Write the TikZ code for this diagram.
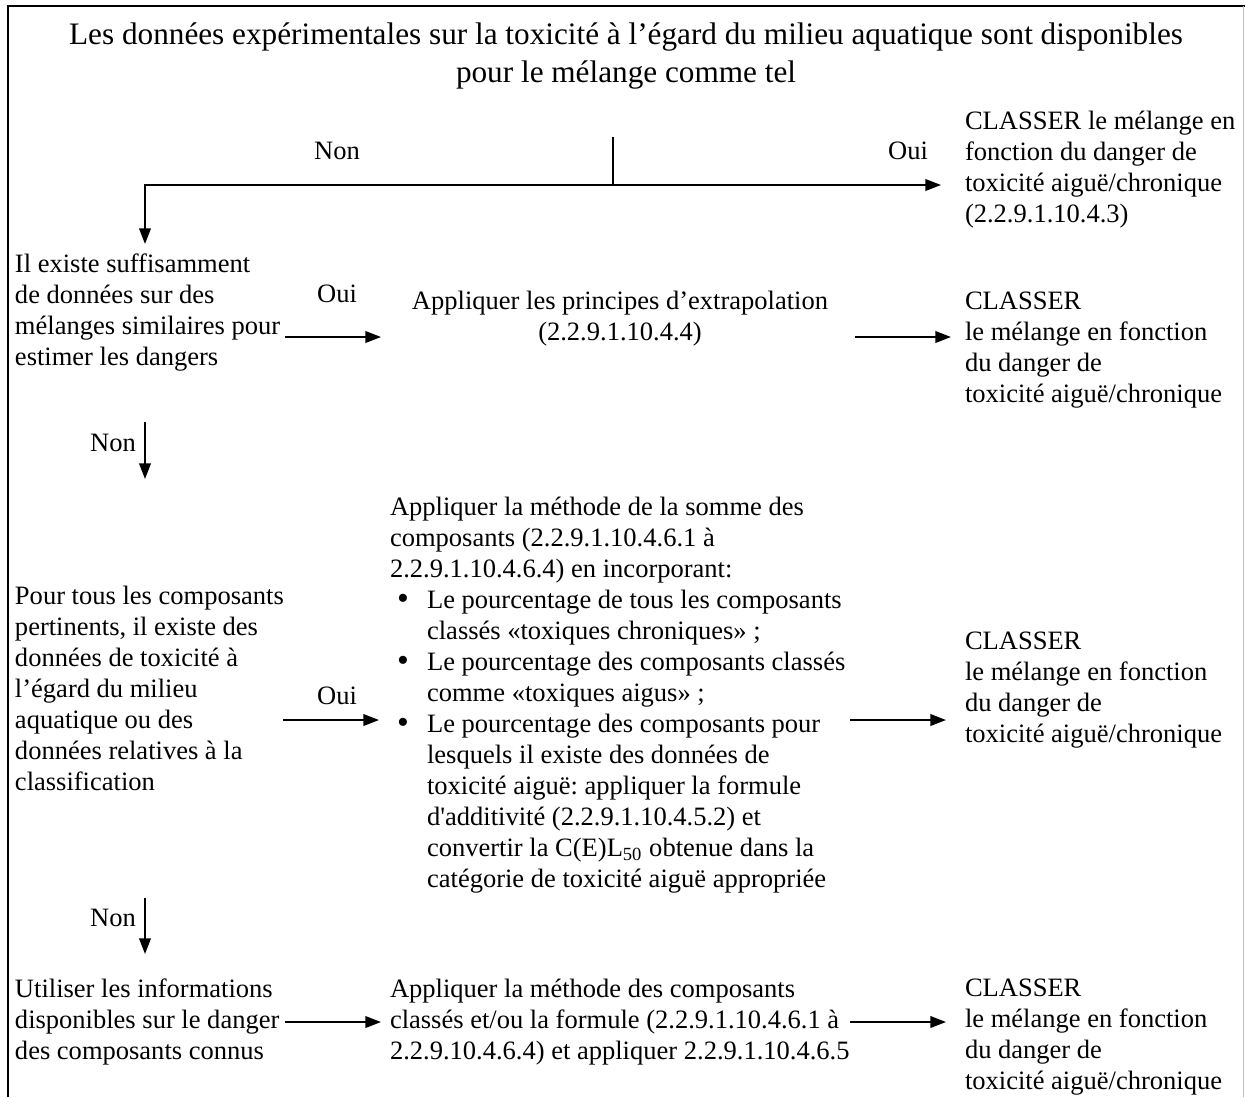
\documentclass[tikz,border=0pt]{standalone}
\usepackage{fontspec}
\setmainfont{Liberation Serif}
\usetikzlibrary{arrows.meta}
\frenchspacing
\begin{document}
\begin{tikzpicture}[x=0.445pt,y=-0.445pt,
  txt/.style={inner sep=0pt,outer sep=0pt,align=left,anchor=north west,font=\fontsize{11.8}{13.8}\selectfont},
  lbl/.style={inner sep=0pt,outer sep=0pt,font=\fontsize{11.8}{13.8}\selectfont},
  conn/.style={line width=0.8pt},
  arr/.style={line width=0.8pt,-{Triangle[length=7pt,width=5.2pt]}}]
\useasboundingbox (0,0) rectangle (1245,1097);
\newcommand\bul{\hspace*{3.2pt}\makebox[13.3pt][l]{\raisebox{-0.3pt}{\fontsize{15}{13.8}\selectfont •}}}
\newcommand\ind{\hspace*{16.5pt}}
% frame
\draw[line width=1.2pt] (8,1097) -- (8,6) -- (1245,6);
\draw[line width=0.4pt,black!25] (1243.5,6) -- (1243.5,1097);
% title
\node[inner sep=0pt,align=center,font=\fontsize{13.9}{16.5}\selectfont] (title) at (626,56)
  {Les données expérimentales sur la toxicité à l'égard du milieu aquatique sont disponibles\\pour le mélange comme tel};
% row 1
\node[lbl] (non1) at (337,151) {Non};
\node[lbl] (oui1) at (908,151) {Oui};
\node[txt] (r1) at (965,111) {CLASSER le mélange en\\fonction du danger de\\toxicité aiguë/chronique\\(2.2.9.1.10.4.3)};
% row 2
\node[txt] (l2) at (15,254) {Il existe suffisamment\\de données sur des\\mélanges similaires pour\\estimer les dangers};
\node[lbl] (oui2) at (337,294) {Oui};
\node[inner sep=0pt,align=center,font=\fontsize{11.8}{13.8}\selectfont] (m2) at (620,319) {Appliquer les principes d'extrapolation\\(2.2.9.1.10.4.4)};
\node[txt] (r2) at (965,292) {CLASSER\\le mélange en fonction\\du danger de\\toxicité aiguë/chronique};
\node[lbl] (non2) at (113,443) {Non};
% row 3
\node[txt] (l3) at (15,586) {Pour tous les composants\\pertinents, il existe des\\données de toxicité à\\l'égard du milieu\\aquatique ou des\\données relatives à la\\classification};
\node[lbl] (oui3) at (337,696) {Oui};
\node[txt] (m3) at (390,497) {Appliquer la méthode de la somme des\\composants (2.2.9.1.10.4.6.1 à\\2.2.9.1.10.4.6.4) en incorporant:\\
\bul Le pourcentage de tous les composants\\
\ind classés «toxiques chroniques» ;\\
\bul Le pourcentage des composants classés\\
\ind comme «toxiques aigus» ;\\
\bul Le pourcentage des composants pour\\
\ind lesquels il existe des données de\\
\ind toxicité aiguë: appliquer la formule\\
\ind d\textquotesingle additivité (2.2.9.1.10.4.5.2) et\\
\ind convertir la C(E)L\textsubscript{50} obtenue dans la\\
\ind catégorie de toxicité aiguë appropriée};
\node[txt] (r3) at (965,632) {CLASSER\\le mélange en fonction\\du danger de\\toxicité aiguë/chronique};
\node[lbl] (non3) at (113,918) {Non};
% row 4
\node[txt] (l4) at (15,979) {Utiliser les informations\\disponibles sur le danger\\des composants connus};
\node[txt] (m4) at (390,979) {Appliquer la méthode des composants\\classés et/ou la formule (2.2.9.1.10.4.6.1 à\\2.2.9.10.4.6.4) et appliquer 2.2.9.1.10.4.6.5};
\node[txt] (r4) at (965,979) {CLASSER\\le mélange en fonction\\du danger de\\toxicité aiguë/chronique};
% connector coordinates
\coordinate (s1) at (613,137);
\coordinate (j1) at (613,185);
\coordinate (c1) at (145,185);
\coordinate (e1) at (941,185);
\coordinate (e2) at (145,244);
\coordinate (a2s) at (285,337); \coordinate (a2e) at (381,337);
\coordinate (b2s) at (855,337); \coordinate (b2e) at (951,337);
\coordinate (n2s) at (145,422); \coordinate (n2e) at (145,479);
\coordinate (a3s) at (283,720); \coordinate (a3e) at (379,720);
\coordinate (b3s) at (850,720); \coordinate (b3e) at (946,720);
\coordinate (n3s) at (145,898); \coordinate (n3e) at (145,954);
\coordinate (a4s) at (285,1022); \coordinate (a4e) at (381,1022);
\coordinate (b4s) at (850,1022); \coordinate (b4e) at (946,1022);
% connectors
\draw[conn] (s1) -- (j1);
\draw[arr] (j1) -- (c1) -- (e2);
\draw[arr] (j1) -- (e1);
\draw[arr] (a2s) -- (a2e);
\draw[arr] (b2s) -- (b2e);
\draw[arr] (n2s) -- (n2e);
\draw[arr] (a3s) -- (a3e);
\draw[arr] (b3s) -- (b3e);
\draw[arr] (n3s) -- (n3e);
\draw[arr] (a4s) -- (a4e);
\draw[arr] (b4s) -- (b4e);
\end{tikzpicture}
\end{document}
